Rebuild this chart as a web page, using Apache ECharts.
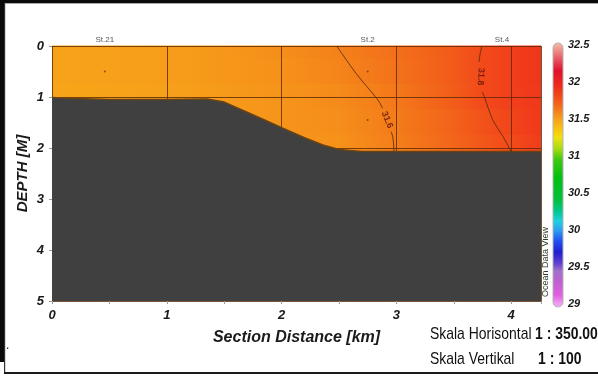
<!DOCTYPE html>
<html>
<head>
<meta charset="utf-8">
<script src="https://cdn.jsdelivr.net/npm/echarts@6/dist/echarts.min.js"></script>
<style>
  html, body { margin: 0; padding: 0; background: #fff; }
  #chart { width: 598px; height: 383px; }
</style>
</head>
<body>
<div id="chart"></div>
<script>
// ---- Section data -------------------------------------------------------
// Distances along the section (km) where salinity is given
const distances = [0, 0.5, 1, 1.5, 2, 2.5, 3, 3.25, 3.5, 3.75, 4, 4.26];
// Depth levels (m) of the salinity rows
const depthLevels = [0, 0.5, 1, 1.5, 2];
// Salinity at each depth level, one value per distance
const salinity0m   = [31.49, 31.50, 31.51, 31.53, 31.56, 31.60, 31.66, 31.70, 31.74, 31.80, 31.85, 31.90];
const salinity05m  = [31.49, 31.50, 31.51, 31.53, 31.55, 31.59, 31.65, 31.69, 31.74, 31.80, 31.85, 31.90];
const salinity1m   = [31.48, 31.49, 31.50, 31.52, 31.54, 31.57, 31.63, 31.68, 31.73, 31.80, 31.85, 31.89];
const salinity15m  = [31.48, 31.49, 31.50, 31.52, 31.54, 31.56, 31.62, 31.66, 31.71, 31.77, 31.83, 31.88];
const salinity2m   = [31.48, 31.49, 31.50, 31.51, 31.53, 31.55, 31.61, 31.65, 31.70, 31.75, 31.80, 31.86];

// Bottom profile
const bottomDistance = [0, 0.2, 0.5, 1.0, 1.35, 1.5, 1.7, 1.9, 2.0, 2.2, 2.36, 2.5, 2.7, 4.26];
const bottomDepth    = [1.01, 1.03, 1.05, 1.05, 1.04, 1.1, 1.3, 1.5, 1.6, 1.8, 1.94, 2.03, 2.07, 2.07];

// Contour lines (distance, depth), split where the level label sits
const contour316Upper = [[2.48, 0], [2.65, 0.54], [2.84, 1.06], [2.88, 1.22]];
const contour316Lower = [[2.955, 1.68], [2.97, 1.8], [2.98, 2.07]];
const contour318Upper = [[3.745, 0], [3.73, 0.15], [3.72, 0.31]];
const contour318Lower = [[3.75, 0.9], [3.77, 1.02], [3.84, 1.45], [3.93, 1.78], [4.0, 2.07]];
const contourLevels = [31.6, 31.8];
const contourLabelAt = [[2.92, 1.45], [3.735, 0.6]];
const contourLabelAngle = [-68, -93];

// Stations
const stationNames = ['St.21', 'St.2', 'St.4'];
const stationDistance = [0.46, 2.75, 3.92];
const samplePoints = [[0.46, 0.5], [2.75, 0.5], [2.75, 1.45]];

// Axis ticks
const depthTicks = { min: 0, max: 5, step: 1 };
const distanceTicks = { min: 0, max: 4.26, step: 1 };
const scaleTicks = { min: 29, max: 32.5, step: 0.5 };

// Salinity colour scale
const paletteValues = [29.0, 29.12, 29.3, 29.45, 29.55, 29.7, 29.85, 30.0, 30.12, 30.25, 30.4, 30.7, 30.95, 31.1, 31.25, 31.38, 31.5, 31.65, 31.8, 31.95, 32.15, 32.3, 32.5];
const paletteColors = ['#F0A0F0', '#E060E0', '#C060D0', '#A070C8', '#6040D0', '#2020D0', '#2050F0', '#30A0F0', '#20D0E0', '#00C890', '#00C040', '#00C010', '#40C810', '#A8DC10', '#F0E010', '#F8C010', '#F7A01A', '#F3721A', '#F24A1A', '#EE2A1C', '#E0102C', '#E85060', '#F4B0A0'];

// ---- Helpers --------------------------------------------------------------
const salinityRows = [salinity0m, salinity05m, salinity1m, salinity15m, salinity2m];
const fieldBottom = 2.1;

function hexToRgb(h) {
  return [parseInt(h.slice(1, 3), 16), parseInt(h.slice(3, 5), 16), parseInt(h.slice(5, 7), 16)];
}
function colorAt(v) {
  if (v <= paletteValues[0]) return paletteColors[0];
  const n = paletteValues.length;
  if (v >= paletteValues[n - 1]) return paletteColors[n - 1];
  for (let i = 0; i < n - 1; i++) {
    if (v <= paletteValues[i + 1]) {
      const t = (v - paletteValues[i]) / (paletteValues[i + 1] - paletteValues[i]);
      const a = hexToRgb(paletteColors[i]), b = hexToRgb(paletteColors[i + 1]);
      const c = a.map((x, k) => Math.round(x + (b[k] - x) * t));
      return 'rgb(' + c.join(',') + ')';
    }
  }
}
// band edges halfway between depth levels
const bandEdges = [0];
for (let i = 0; i < depthLevels.length - 1; i++) bandEdges.push((depthLevels[i] + depthLevels[i + 1]) / 2);
bandEdges.push(fieldBottom);

const sansFont = "'Liberation Sans', Arial, sans-serif";
const boldItalic = { fontStyle: 'italic', fontWeight: 'bold', fontFamily: sansFont, color: '#1a1a1a' };
const lineColor = '#5a2a0c';

const chart = echarts.init(document.getElementById('chart'), null, { renderer: 'canvas' });

function contourSeries(pts) {
  return {
    type: 'line', xAxisIndex: 0, yAxisIndex: 0, data: pts, smooth: 0.3,
    symbol: 'none', z: 6, silent: true,
    lineStyle: { color: lineColor, width: 1, opacity: 0.85 }
  };
}

// condensed text drawn by squeezing a regular face horizontally
function narrowText(x, y, text, bold) {
  return {
    type: 'text', x: x, y: y, scaleX: 0.82, silent: true,
    style: { text: text, fontSize: 17, fontWeight: bold ? 'bold' : 'normal', fill: '#111', verticalAlign: 'middle', fontFamily: sansFont }
  };
}

const option = {
  animation: false,
  backgroundColor: '#ffffff',
  grid: [
    { left: 52, top: 46, width: 489, height: 255 },
    { left: 553, top: 45, width: 10, height: 259 }
  ],
  xAxis: [
    {
      type: 'value', gridIndex: 0, min: distanceTicks.min, max: distanceTicks.max, interval: distanceTicks.step, z: 3,
      position: 'bottom',
      axisLine: { show: false, onZero: false },
      axisTick: { show: true, length: 3, lineStyle: { color: '#999' } },
      minorTick: { show: true, splitNumber: 2, length: 3, lineStyle: { color: '#999' } },
      splitLine: { show: true, lineStyle: { color: 'rgba(90,40,5,0.8)', width: 1 } },
      axisLabel: Object.assign({ showMaxLabel: false, fontSize: 13, margin: 8 }, boldItalic),
      name: 'Section Distance [km]', nameLocation: 'middle', nameGap: 29, nameMoveOverlap: false,
      nameTextStyle: { fontStyle: 'italic', fontWeight: 'bold', fontSize: 16, fontFamily: sansFont, color: '#1a1a1a' }
    },
    { type: 'value', gridIndex: 1, min: 0, max: 1, show: false }
  ],
  yAxis: [
    {
      type: 'value', gridIndex: 0, inverse: true, min: depthTicks.min, max: depthTicks.max, interval: depthTicks.step, z: 3,
      axisLine: { show: false, onZero: false },
      axisTick: { show: true, length: 3, lineStyle: { color: '#999' } },
      splitLine: { show: true, lineStyle: { color: 'rgba(90,40,5,0.8)', width: 1 } },
      axisLabel: Object.assign({ fontSize: 13, margin: 8 }, boldItalic),
      name: 'DEPTH [M]', nameLocation: 'middle', nameGap: 22, nameRotate: 90, nameMoveOverlap: false,
      nameTextStyle: { fontStyle: 'italic', fontWeight: 'bold', fontSize: 15, fontFamily: sansFont, color: '#1a1a1a' }
    },
    {
      type: 'value', gridIndex: 1, position: 'right', min: scaleTicks.min, max: scaleTicks.max, interval: scaleTicks.step,
      axisLine: { show: false }, axisTick: { show: false }, splitLine: { show: false },
      axisLabel: Object.assign({ fontSize: 11, margin: 5 }, boldItalic)
    }
  ],
  series: [
    // salinity field, one horizontal band per depth level
    {
      type: 'custom', xAxisIndex: 0, yAxisIndex: 0, z: 2, silent: true,
      data: depthLevels.map((d, i) => [i]),
      renderItem: function (params, api) {
        const i = api.value(0);
        const row = salinityRows[i];
        const xMax = distances[distances.length - 1];
        const p0 = api.coord([0, bandEdges[i]]);
        const p1 = api.coord([xMax, bandEdges[i + 1]]);
        const stops = distances.map((d, k) => ({ offset: d / xMax, color: colorAt(row[k]) }));
        return {
          type: 'rect',
          shape: { x: p0[0], y: p0[1] - 0.5, width: p1[0] - p0[0], height: p1[1] - p0[1] + 1 },
          style: { fill: new echarts.graphic.LinearGradient(p0[0], 0, p1[0], 0, stops, true) }
        };
      }
    },
    // sea bottom
    {
      type: 'line', xAxisIndex: 0, yAxisIndex: 0, z: 4, silent: true,
      data: bottomDistance.map((x, i) => [x, bottomDepth[i]]),
      symbol: 'none',
      lineStyle: { color: '#6a4314', width: 1.5 },
      areaStyle: { color: '#404040', opacity: 1, origin: 'end' }
    },
    contourSeries(contour316Upper),
    contourSeries(contour316Lower),
    contourSeries(contour318Upper),
    contourSeries(contour318Lower),
    // contour level labels
    {
      type: 'scatter', xAxisIndex: 0, yAxisIndex: 0, z: 7, silent: true,
      symbolSize: 0,
      data: contourLabelAt.map((p, i) => ({
        value: p,
        label: {
          show: true, position: 'inside', rotate: contourLabelAngle[i],
          formatter: String(contourLevels[i].toFixed(1)),
          fontSize: 9, fontWeight: 'bold', color: '#5a1208', fontFamily: sansFont
        }
      }))
    },
    // sample points
    {
      type: 'scatter', xAxisIndex: 0, yAxisIndex: 0, z: 7, silent: true,
      symbolSize: 2, itemStyle: { color: '#7a3a10' },
      data: samplePoints
    },
    // station names above the section
    {
      type: 'scatter', xAxisIndex: 0, yAxisIndex: 0, z: 7, silent: true,
      symbolSize: 0,
      data: stationDistance.map((x, i) => ({ value: [x, 0], name: stationNames[i] })),
      label: {
        show: true, position: 'top', distance: 2, formatter: '{b}',
        fontSize: 8, color: '#2a2a2a', fontFamily: sansFont
      }
    },
    // colour scale bar, gradient stops placed on the scale axis
    {
      type: 'custom', xAxisIndex: 1, yAxisIndex: 1, z: 2, silent: true,
      data: [[0]],
      renderItem: function (params, api) {
        const top = api.coord([0, scaleTicks.max]);
        const bot = api.coord([1, scaleTicks.min]);
        const y0 = top[1] - 2, y1 = bot[1] + 3;
        const h = y1 - y0;
        const stops = paletteValues.map((v, k) => ({
          offset: Math.min(1, Math.max(0, (api.coord([0, v])[1] - y0) / h)),
          color: paletteColors[k]
        })).sort((a, b) => a.offset - b.offset);
        stops.unshift({ offset: 0, color: paletteColors[paletteColors.length - 1] });
        stops.push({ offset: 1, color: paletteColors[0] });
        return {
          type: 'rect',
          shape: { x: top[0], y: y0, width: bot[0] - top[0], height: h, r: 5 },
          style: { fill: new echarts.graphic.LinearGradient(0, y0, 0, y1, stops, true), stroke: '#b4b4b4', lineWidth: 1 }
        };
      }
    }
  ],
  graphic: [
    // frame
    { type: 'rect', shape: { x: 0, y: 0, width: 598, height: 3 }, style: { fill: '#0a0a0a' }, silent: true },
    { type: 'rect', shape: { x: 0, y: 0, width: 4, height: 362 }, style: { fill: '#0a0a0a' }, silent: true },
    { type: 'rect', shape: { x: 4, y: 3, width: 1.2, height: 371 }, style: { fill: '#333' }, silent: true },
    { type: 'rect', shape: { x: 4, y: 372, width: 594, height: 2 }, style: { fill: '#1a1a1a' }, silent: true },
    { type: 'rect', shape: { x: 5, y: 3, width: 593, height: 1 }, style: { fill: '#aaa' }, silent: true },
    // watermark beside the colour bar
    {
      type: 'text', x: 546, y: 262, rotation: Math.PI / 2, silent: true,
      style: { text: 'Ocean Data View', fontSize: 9, fill: '#2d3a2d', align: 'center', verticalAlign: 'middle', fontFamily: sansFont }
    },
    // scale notes
    narrowText(430, 334, 'Skala Horisontal', false),
    narrowText(535, 334, '1 : 350.00', true),
    narrowText(430, 359, 'Skala Vertikal', false),
    narrowText(538, 359, '1 : 100', true),
    {
      type: 'text', x: 6, y: 352, silent: true,
      style: { text: '.', fontSize: 12, fill: '#111', verticalAlign: 'bottom', fontFamily: sansFont }
    }
  ]
};

chart.setOption(option);
</script>
</body>
</html>
